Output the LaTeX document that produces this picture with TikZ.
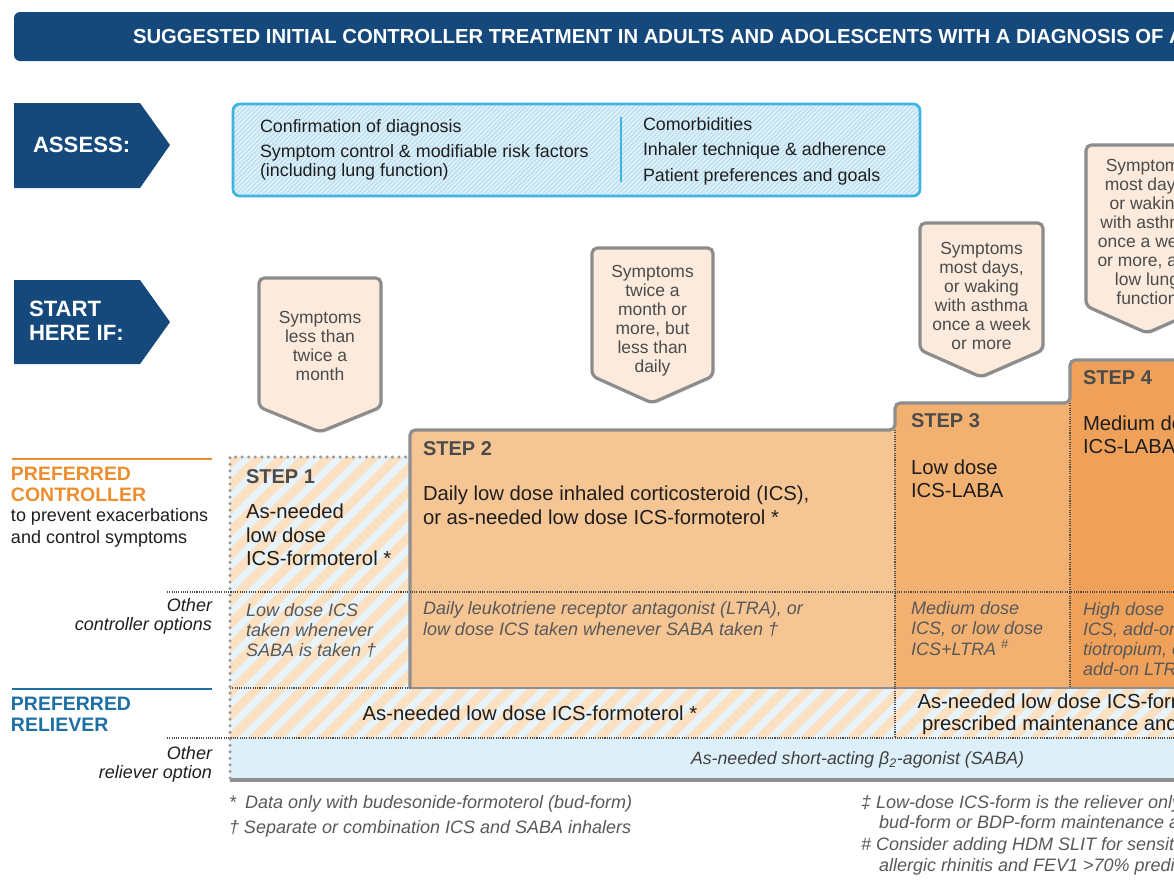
\documentclass[tikz,border=0pt]{standalone}
\usepackage{fontspec}
\setmainfont{Liberation Sans}
\usetikzlibrary{shadows}
\definecolor{navy}{HTML}{15497B}
\definecolor{assessborder}{HTML}{3DB5E3}
\definecolor{assessfill}{HTML}{DDF0FA}
\definecolor{assesshatch}{HTML}{B3DCF0}
\definecolor{calloutfill}{HTML}{FCEBDD}
\definecolor{calloutdraw}{HTML}{8C8C8C}
\definecolor{stepA}{HTML}{F6C594}
\definecolor{stepB}{HTML}{F3B171}
\definecolor{stepC}{HTML}{EFA15A}
\definecolor{stripeblue}{HTML}{E8F4FB}
\definecolor{stripepeach}{HTML}{FCE0C2}
\definecolor{sabafill}{HTML}{DDEFF9}
\definecolor{orangelabel}{HTML}{EC8E2F}
\definecolor{bluelabel}{HTML}{1D6FA4}
\definecolor{steplabelc}{HTML}{4B4B4B}
\definecolor{othertext}{HTML}{585858}
\definecolor{linegray}{HTML}{8E8E8E}
\definecolor{dotgray}{HTML}{9A9A9A}
\definecolor{textdark}{HTML}{1E1E1E}
\begin{document}
\begin{tikzpicture}[x=0.75pt,y=-0.75pt,
  every node/.style={inner sep=0pt, outer sep=0pt},
  bodytext/.style={text=textdark, font=\fontsize{13.4}{14.25}\selectfont},
  callouttext/.style={text=steplabelc, align=center, font=\fontsize{13.1}{14.25}\selectfont},
  callout/.style={fill=calloutfill, draw=calloutdraw, line width=2.4pt, rounded corners=4pt,
     drop shadow={opacity=0.18, shadow xshift=1pt, shadow yshift=-1.5pt}},
  arrowbox/.style={fill=navy},
  arrowtext/.style={text=white, align=left, font=\bfseries\fontsize{16.6}{18}\selectfont},
  steplabel/.style={text=steplabelc, anchor=west, font=\bfseries\fontsize{15}{16}\selectfont},
  stepmain/.style={text=textdark, align=left, anchor=west, font=\fontsize{15.2}{17.5}\selectfont},
  othertxt/.style={text=othertext, align=left, anchor=west, font=\itshape\fontsize{13.5}{15.2}\selectfont},
  lefttxt/.style={text=textdark, font=\fontsize{13.5}{16.4}\selectfont},
  leftital/.style={text=textdark, align=right, anchor=east, font=\itshape\fontsize{13.5}{14.3}\selectfont},
  labelbold/.style={align=left, anchor=west, font=\bfseries\fontsize{14.6}{15.75}\selectfont},
  foot/.style={text=othertext, anchor=west, font=\itshape\fontsize{13.5}{15}\selectfont},
  stepline/.style={draw=linegray, line width=2.4pt},
  finedots/.style={draw=black!70, line width=0.8pt, dash pattern=on 0.8pt off 0.9pt},
  bigdots/.style={draw=dotgray, line width=2.6pt, line cap=round, dash pattern=on 0pt off 4.9pt}
]
\useasboundingbox (0,0) rectangle (1174,886);
\clip (0,0) rectangle (1174,886);

% title banner
\fill[navy, rounded corners=4.5pt] (14,12) rectangle (1200,61);
\node[anchor=west, text=white, font=\bfseries\fontsize{15.2}{17}\selectfont] (title) at (133,37)
  {SUGGESTED INITIAL CONTROLLER TREATMENT IN ADULTS AND ADOLESCENTS WITH A DIAGNOSIS OF ASTHMA};

% left arrows
\fill[arrowbox] (14,103) -- (140,103) -- (170,145) -- (140,188) -- (14,188) -- cycle;
\node[arrowtext, anchor=west] (assess) at (33,145) {ASSESS:};
\fill[arrowbox] (14,280) -- (140,280) -- (170,322) -- (140,364) -- (14,364) -- cycle;
\node[arrowtext, anchor=west] (start) at (29,321) {START\\HERE IF:};

% assess box
\begin{scope}
  \clip[rounded corners=5pt] (233,104) rectangle (920,196);
  \fill[assessfill] (233,104) rectangle (920,196);
  \foreach \i in {0,...,180} \draw[assesshatch, line width=0.6pt] ({133+\i*4.5},198) -- ++(100,-100);
\end{scope}
\draw[assessborder, line width=2pt, rounded corners=5pt] (233,104) rectangle (920,196);
\draw[assessborder, line width=1.5pt] (621,117) -- (621,182);
\node[bodytext, anchor=west] (a1) at (260,127.5) {Confirmation of diagnosis};
\node[bodytext, anchor=west, align=left] (a2) at (260,162) {Symptom control \& modifiable risk factors\\(including lung function)};
\node[bodytext, anchor=west] (a3) at (643,124.5) {Comorbidities};
\node[bodytext, anchor=west] (a4) at (643,150.5) {Inhaler technique \& adherence};
\node[bodytext, anchor=west] (a5) at (643,176.5) {Patient preferences and goals};

% symptom callouts
\path[callout] (259,278) -- (381,278) -- (381,407) -- (320,432) -- (259,407) -- cycle;
\node[callouttext] (s1) at (320,345.5) {Symptoms\\less than\\twice a\\month};
\path[callout] (592,248) -- (713,248) -- (713,376) -- (652,403) -- (592,376) -- cycle;
\node[callouttext] (s2) at (652.5,321) {Symptoms\\twice a\\month or\\more, but\\less than\\daily};
\path[callout] (920,223) -- (1043,223) -- (1043,350) -- (981,377) -- (920,350) -- cycle;
\node[callouttext] (s3) at (981.5,295.5) {Symptoms\\most days,\\or waking\\with asthma\\once a week\\or more};
\path[callout] (1086,145) -- (1208,145) -- (1208,306) -- (1147,333) -- (1086,306) -- cycle;
\node[callouttext] (s4) at (1147,232) {Symptoms\\most days,\\or waking\\with asthma\\once a week\\or more, and\\low lung\\function};

% step fills
\fill[stepA] (410,430) rectangle (895,688);
\fill[stepB] (895,403) rectangle (1070,688);
\fill[stepC] (1070,360) rectangle (1190,688);

% striped areas (step 1 and preferred reliever row)
\begin{scope}
  \clip (230,457) rectangle (410,688) (230,688) rectangle (1190,738);
  \fill[stripeblue] (220,450) rectangle (1190,740);
  \foreach \i in {0,...,58} \draw[stripepeach, line width=6.8pt] ({-75+\i*23},745) -- ++(310,-310);
\end{scope}

% SABA row
\fill[sabafill] (230,738) rectangle (1190,779);

% outlines
\draw[stepline, rounded corners=4pt] (410,688) -- (410,430) -- (895,430) -- (895,403) -- (1070,403) -- (1070,360) -- (1200,360);
\draw[draw=linegray, line width=1.3pt] (410,688) -- (1190,688);
\draw[draw=linegray, line width=3pt] (230,780) -- (1190,780);
\draw[finedots] (167,592) -- (1190,592);
\draw[finedots] (167,738) -- (1190,738);
\draw[finedots] (230,688) -- (410,688);
\draw[finedots] (895,430) -- (895,738);
\draw[finedots] (1070,403) -- (1070,688);
\draw[bigdots] (230,778) -- (230,457) -- (410,457);

% left labels
\draw[orangelabel, line width=0.9pt] (12,459) -- (212,459);
\node[labelbold, text=orangelabel] (pc) at (11,484.5) {PREFERRED\\CONTROLLER};
\node[lefttxt, anchor=west, align=left] (pcsub) at (11,528) {to prevent exacerbations\\and control symptoms};
\node[leftital] (oc) at (212,616.5) {Other\\controller options};
\draw[bluelabel, line width=0.9pt] (12,689) -- (212,689);
\node[labelbold, text=bluelabel] (pr) at (11,714.5) {PREFERRED\\RELIEVER};
\node[leftital] (orl) at (212,764.5) {Other\\reliever option};

% step texts
\node[steplabel] (st1) at (246,477) {STEP 1};
\node[stepmain] (m1) at (246,535) {As-needed\\low dose\\ICS-formoterol *};
\node[othertxt] (o1) at (246,630.5) {Low dose ICS\\taken whenever\\SABA is taken †};

\node[steplabel] (st2) at (423,449) {STEP 2};
\node[stepmain, font=\fontsize{15.2}{18}\selectfont] (m2) at (423,505) {Daily low dose inhaled corticosteroid (ICS),\\or as-needed low dose ICS-formoterol *};
\node[othertxt] (o2) at (423,619) {Daily leukotriene receptor antagonist (LTRA), or\\low dose ICS taken whenever SABA taken †};

\node[steplabel] (st3) at (911,421) {STEP 3};
\node[stepmain] (m3) at (911,478.5) {Low dose\\ICS-LABA};
\node[othertxt] (o3) at (911,628.5) {Medium dose\\ICS, or low dose\\ICS+LTRA \textsuperscript{\#}};

\node[steplabel] (st4) at (1083,378) {STEP 4};
\node[stepmain] (m4) at (1083,435) {Medium dose\\ICS-LABA};
\node[othertxt] (o4) at (1083,639) {High dose\\ICS, add-on\\tiotropium, or\\add-on LTRA};

% reliever rows
\node[stepmain, anchor=center] (r1) at (530,713) {As-needed low dose ICS-formoterol *};
\node[stepmain, anchor=center, align=center, font=\fontsize{15.2}{16.5}\selectfont] (r2) at (1131,714) {As-needed low dose ICS-formoterol for patients\\prescribed maintenance and reliever therapy ‡};
\node[anchor=west, text=textdark!85, font=\itshape\fontsize{13.3}{15}\selectfont] (saba) at (691,760) {As-needed short-acting β\textsubscript{2}-agonist (SABA)};

% footnotes
\node[foot] (f1) at (229,804) {*\enspace Data only with budesonide-formoterol (bud-form)};
\node[foot] (f2) at (229,829) {† Separate or combination ICS and SABA inhalers};
\node[foot] (f3) at (861,804) {‡ Low-dose ICS-form is the reliever only for patients prescribed};
\node[foot] (f3b) at (879,824) {bud-form or BDP-form maintenance and reliever therapy};
\node[foot] (f4) at (861,846) {\# Consider adding HDM SLIT for sensitized patients with};
\node[foot] (f4b) at (879,867) {allergic rhinitis and FEV1 >70\% predicted};
\end{tikzpicture}
\end{document}
